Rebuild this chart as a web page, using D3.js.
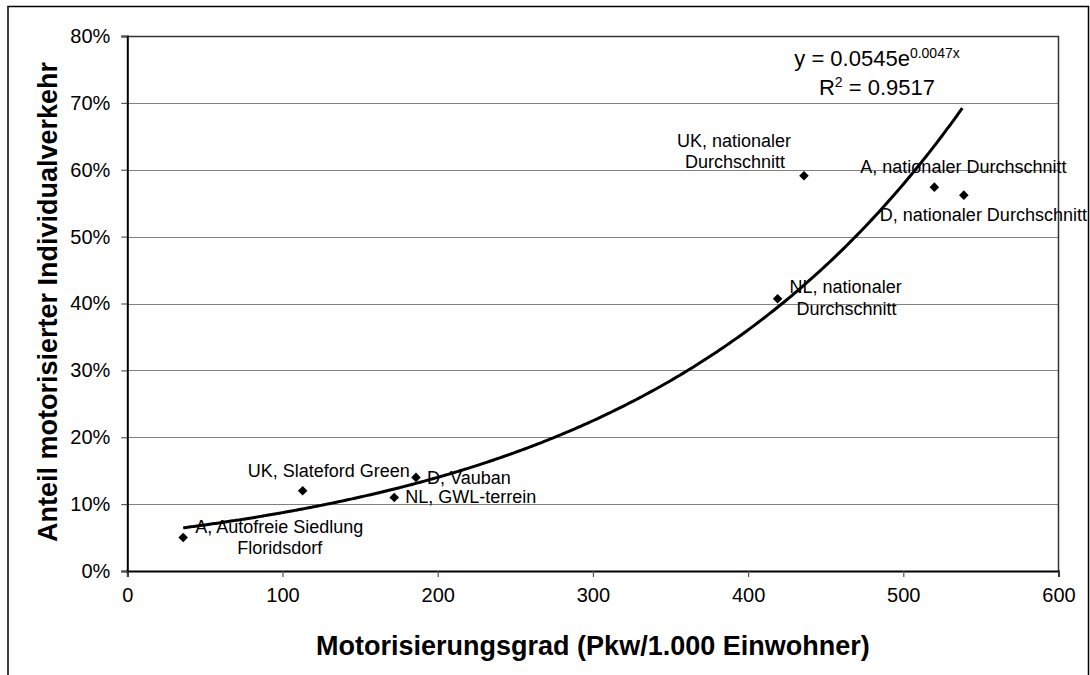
<!DOCTYPE html>
<html>
<head>
<meta charset="utf-8">
<script src="https://cdn.jsdelivr.net/npm/d3@7"></script>
<style>
  body { margin: 0; background: #fff; }
  text { font-family: Arial, "Liberation Sans", sans-serif; fill: #000; }
</style>
</head>
<body>
<div id="chart"></div>
<script>
// Data.
const labels = [
  "A, Autofreie Siedlung|Floridsdorf",
  "UK, Slateford Green",
  "D, Vauban",
  "NL, GWL-terrein",
  "NL, nationaler|Durchschnitt",
  "UK, nationaler|Durchschnitt",
  "A, nationaler Durchschnitt",
  "D, nationaler Durchschnitt"
];
const motorisation = [36, 113, 186, 172, 419, 436, 520, 539];
const shareMIV = [0.05, 0.12, 0.14, 0.11, 0.407, 0.591, 0.574, 0.562];

const xTicks = [0, 100, 200, 300, 400, 500, 600];
const yTicks = [0, 0.1, 0.2, 0.3, 0.4, 0.5, 0.6, 0.7, 0.8];

const xTitle = "Motorisierungsgrad (Pkw/1.000 Einwohner)";
const yTitle = "Anteil motorisierter Individualverkehr";

// Label placement, one [dx, dy] per line (start of text, relative to the point).
const labelOffsets = [
  [[12, -4.5], [54, 16.5]],
  [[-55, -14]],
  [[11, 6.5]],
  [[11, 6]],
  [[12, -6], [19, 16]],
  [[-127, -29], [-119, -7.5]],
  [[-74, -14]],
  [[-84, 25.5]]
];

const width = 1090;
const height = 675;
const plot = { left: 127.3, right: 1058.5, top: 36, bottom: 571 };

const svg = d3.select("#chart").append("svg")
  .attr("width", width)
  .attr("height", height);

svg.append("rect").attr("width", width).attr("height", height).attr("fill", "#fff");

// Outer chart border (bottom is cut off in the reference).
svg.append("path")
  .attr("d", "M8,675V6.5H1088.5V675")
  .attr("fill", "none")
  .attr("stroke", "#000")
  .attr("stroke-width", 1.5);

const x = d3.scaleLinear().domain([0, 600]).range([plot.left, plot.right]);
const y = d3.scaleLinear().domain([0, 0.8]).range([plot.bottom, plot.top]);

// Horizontal gridlines
svg.append("g")
  .selectAll("line")
  .data(yTicks.slice(1))
  .join("line")
  .attr("x1", plot.left)
  .attr("x2", plot.right)
  .attr("y1", d => Math.round(y(d)) + 0.5)
  .attr("y2", d => Math.round(y(d)) + 0.5)
  .attr("stroke", "#808080")
  .attr("stroke-width", 1);

// Plot area border (top and right)
svg.append("path")
  .attr("d", `M${plot.left},${plot.top + 0.5}H${plot.right}V${plot.bottom}`)
  .attr("fill", "none")
  .attr("stroke", "#333")
  .attr("stroke-width", 1.5);

// Axes
const xAxis = svg.append("g")
  .attr("transform", `translate(0,${plot.bottom})`)
  .call(d3.axisBottom(x).tickValues(xTicks).tickSize(6).tickPadding(11).tickFormat(d3.format("d")));

const yAxis = svg.append("g")
  .attr("transform", `translate(${plot.left},0)`)
  .call(d3.axisLeft(y).tickValues(yTicks).tickSize(6).tickPadding(11).tickFormat(d3.format(".0%")));

[xAxis, yAxis].forEach(a => {
  a.select(".domain").attr("stroke", "#000").attr("stroke-width", 2);
  a.selectAll(".tick line").attr("stroke", "#555").attr("stroke-width", 1.2);
  a.selectAll("text")
    .attr("font-family", "Arial, 'Liberation Sans', sans-serif")
    .attr("font-size", 20)
    .attr("fill", "#000");
});

const points = motorisation.map((m, i) => ({ m, s: shareMIV[i], label: labels[i], offs: labelOffsets[i] }));

// Data labels
const lbl = svg.append("g")
  .selectAll("text")
  .data(points)
  .join("text")
  .attr("font-size", 18);

lbl.selectAll("tspan")
  .data(d => d.label.split("|").map((t, j) => ({ t, px: x(d.m) + d.offs[j][0], py: y(d.s) + d.offs[j][1] })))
  .join("tspan")
  .attr("x", d => d.px)
  .attr("y", d => d.py)
  .text(d => d.t);

// Points
svg.append("g")
  .selectAll("path")
  .data(points)
  .join("path")
  .attr("transform", d => `translate(${x(d.m)},${y(d.s)}) rotate(45)`)
  .attr("d", d3.symbol(d3.symbolSquare, 46))
  .attr("fill", "#000");

// Exponential trendline fitted to the points (least squares on ln y).
const lx = motorisation;
const ly = shareMIV.map(Math.log);
const mx = d3.mean(lx);
const my = d3.mean(ly);
const b = d3.sum(lx, (v, i) => (v - mx) * (ly[i] - my)) / d3.sum(lx, v => (v - mx) * (v - mx));
const a = Math.exp(my - b * mx);

const xs = d3.range(d3.min(lx), d3.max(lx) + 0.5, 2);
svg.append("path")
  .datum(xs)
  .attr("fill", "none")
  .attr("stroke", "#000")
  .attr("stroke-width", 3)
  .attr("d", d3.line().x(d => x(d)).y(d => y(a * Math.exp(b * d))).curve(d3.curveMonotoneX));

// Trendline equation
const eq = svg.append("g").attr("font-size", 22);
const eq1 = eq.append("text").attr("x", 877).attr("y", 66).attr("text-anchor", "middle");
eq1.append("tspan").text("y = 0.0545e");
eq1.append("tspan").attr("font-size", 14).attr("dy", -8).text("0.0047x");
const eq2 = eq.append("text").attr("x", 877).attr("y", 95).attr("text-anchor", "middle");
eq2.append("tspan").text("R");
eq2.append("tspan").attr("font-size", 14).attr("dy", -8).text("2");
eq2.append("tspan").attr("dy", 8).text(" = 0.9517");

// Axis titles
svg.append("text")
  .attr("x", (plot.left + plot.right) / 2)
  .attr("y", 655)
  .attr("text-anchor", "middle")
  .attr("font-size", 27)
  .attr("font-weight", "bold")
  .text(xTitle);

svg.append("text")
  .attr("transform", `translate(57,302) rotate(-90)`)
  .attr("text-anchor", "middle")
  .attr("font-size", 27)
  .attr("font-weight", "bold")
  .text(yTitle);
</script>
</body>
</html>
